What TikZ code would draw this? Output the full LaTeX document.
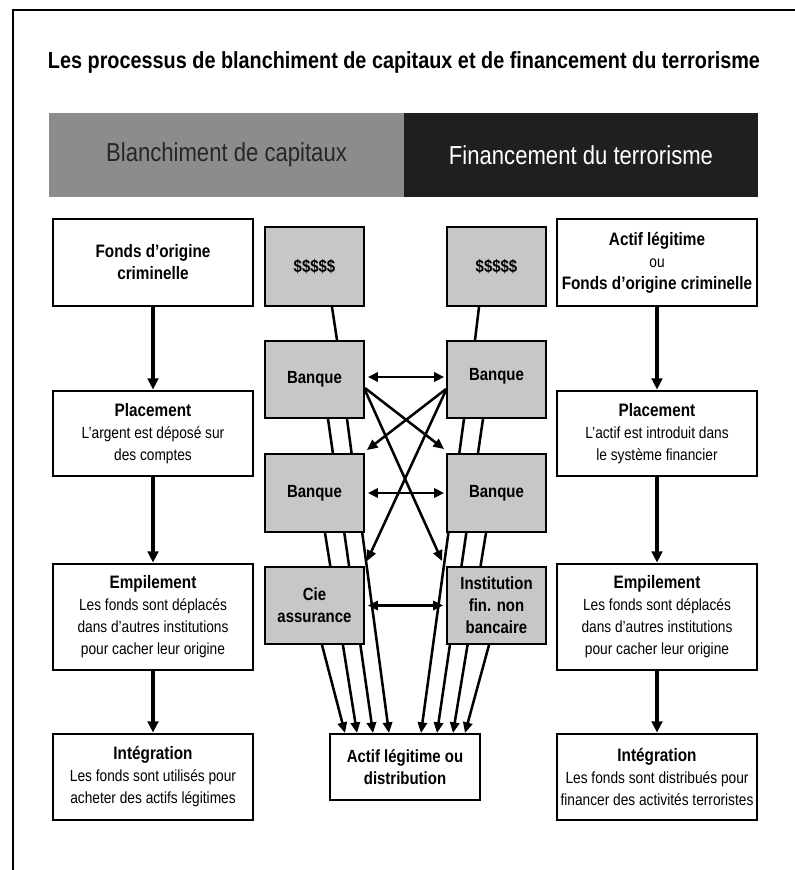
\documentclass[tikz,border=0pt]{standalone}
\usepackage{fontspec}
\setmainfont{Liberation Sans}[FakeStretch=0.85]
\usetikzlibrary{arrows.meta,calc,backgrounds}
\definecolor{midgray}{gray}{0.78}
\definecolor{bandlight}{gray}{0.55}
\definecolor{banddark}{gray}{0.12}
\newcommand{\myBody}{\fontsize{12.1}{16.5}\selectfont}
\newcommand{\hd}[1]{{\fontsize{13.5}{16.5}\selectfont\bfseries #1}}
\begin{document}
\begin{tikzpicture}[x=0.75pt,y=-0.75pt,
  every node/.style={inner sep=0pt, align=center},
  stage/.style={draw, line width=2.1pt, fill=white, minimum width=150pt, font=\myBody},
  midbox/.style={draw, line width=1.4pt, fill=midgray, minimum width=74.25pt, font=\bfseries\fontsize{13.2}{16.5}\selectfont},
  band/.style={minimum width=266pt, minimum height=63pt, font=\fontsize{19.5}{22}\selectfont},
  flow/.style={line width=2.3pt, -{Triangle[length=8.5pt,width=8pt]}},
  link/.style={line width=1.9pt, -{Triangle[length=8pt,width=7pt]}},
  both/.style={line width=1.9pt, {Triangle[length=7.5pt,width=7pt]}-{Triangle[length=7.5pt,width=7pt]}},
  plain/.style={line width=1.9pt}
]
\useasboundingbox (0,0) rectangle (795,870);
% frame
\draw[line width=1.6pt] (13,870) -- (13,10) -- (795,10);
% title
\node[font=\bfseries\fontsize{17.5}{20}\selectfont] (title) at (404,62)
  {Les processus de blanchiment de capitaux et de financement du terrorisme};
% header band
\node[band, fill=bandlight, text=black!85] (hdrL) at (226.5,155) {Blanchiment de capitaux};
\node[band, fill=banddark, text=white] (hdrR) at (581,155) {Financement du terrorisme};

% left column
\node[stage, minimum height=65.25pt] (l1) at (153,262.5) {\hd{Fonds d’origine}\\\hd{criminelle}};
\node[stage, minimum height=63.75pt] (l2) at (153,433.5) {\hd{Placement}\\L’argent est déposé sur\\des comptes};
\node[stage, minimum height=79.5pt] (l3) at (153,617) {\hd{Empilement}\\Les fonds sont déplacés\\dans d’autres institutions\\pour cacher leur origine};
\node[stage, minimum height=64.5pt] (l4) at (153,777) {\hd{Intégration}\\Les fonds sont utilisés pour\\acheter des actifs légitimes};

% right column
\node[stage, minimum height=65.25pt] (r1) at (657,262.5) {\hd{Actif légitime}\\ou\\\hd{Fonds d’origine criminelle}};
\node[stage, minimum height=63.75pt] (r2) at (657,433.5) {\hd{Placement}\\L’actif est introduit dans\\le système financier};
\node[stage, minimum height=79.5pt] (r3) at (657,617) {\hd{Empilement}\\Les fonds sont déplacés\\dans d’autres institutions\\pour cacher leur origine};
\node[stage, minimum height=64.5pt] (r4) at (657,777) {\hd{Intégration}\\Les fonds sont distribués pour\\financer des activités terroristes};

% centre boxes
\node[midbox, minimum height=59.25pt] (dl) at (314.5,266.5) {\$\$\$\$\$};
\node[midbox, minimum height=59.25pt] (dr) at (496.5,266.5) {\$\$\$\$\$};
\node[midbox, minimum height=57.75pt] (b1l) at (314.5,379.5) {Banque};
\node[midbox, minimum height=57.75pt, text depth=7pt] (b1r) at (496.5,379.5) {Banque};
\node[midbox, minimum height=58.5pt] (b2l) at (314.5,493) {Banque};
\node[midbox, minimum height=58.5pt] (b2r) at (496.5,493) {Banque};
\node[midbox, minimum height=57.75pt] (cie) at (314.5,605.5) {Cie\\assurance};
\node[midbox, minimum height=57.75pt] (ins) at (496.5,605.5) {Institution\\fin. non\\bancaire};
\node[draw, line width=1.5pt, fill=white, minimum width=112.5pt, minimum height=49.5pt,
  font=\bfseries\fontsize{13.2}{16}\selectfont] (dest) at (405,767) {Actif légitime ou\\distribution};

% main column arrows
\draw[flow] (l1) -- (l2);
\draw[flow] (l2) -- (l3);
\draw[flow] (l3) -- (l4);
\draw[flow] (r1) -- (r2);
\draw[flow] (r2) -- (r3);
\draw[flow] (r3) -- (r4);

% $$$$$ to banks
\draw[plain] ($(dl.south)+(17.5,0)$) -- ($(b1l.north)+(22.5,0)$);
\draw[plain] ($(dr.south)+(-17.5,0)$) -- ($(b1r.north)+(-21.5,0)$);

% double arrows
\draw[both] ($(b1l.east)+(3,-2.5)$) -- ($(b1r.west)+(-2,-2.5)$);
\draw[both] ($(b2l.east)+(3,0)$) -- ($(b2r.west)+(-2,0)$);
\draw[both] ($(cie.east)+(3,0)$) -- ($(ins.west)+(-3,0)$);

% crossing arrows
\draw[link] ($(b1l.east)+(0,8.5)$) -- ($(b2r.north west)+(-2,-4)$);
\draw[link] ($(b1l.east)+(0,10.5)$) -- ($(ins.north west)+(-4,-5)$);
\draw[link] ($(b1r.west)+(0,9.5)$) -- ($(b2l.north east)+(2,-3)$);
\draw[link] ($(b1r.west)+(0,10.5)$) -- ($(cie.north east)+(2,-5)$);

% flows to destination (behind boxes)
\begin{pgfonlayer}{background}
\fill[white] (0,0) rectangle (795,870);
\draw[link] ($(b1l.south)+(13.5,0)$) -- ($(dest.north)+(-32,0)$);
\draw[link] ($(b1l.south)+(32.5,0)$) -- ($(dest.north)+(-16,0)$);
\draw[link] ($(b2l.south)+(10.5,0)$) -- ($(dest.north)+(-48,0)$);
\draw[link] ($(cie.south)+(7.5,0)$) -- ($(dest.north)+(-60,0)$);
\draw[link] ($(b1r.south)+(-13.5,0)$) -- ($(dest.north)+(32,0)$);
\draw[link] ($(b1r.south)+(-32.5,0)$) -- ($(dest.north)+(16,0)$);
\draw[link] ($(b2r.south)+(-10.5,0)$) -- ($(dest.north)+(48,0)$);
\draw[link] ($(ins.south)+(-7.5,0)$) -- ($(dest.north)+(60,0)$);
\end{pgfonlayer}
\end{tikzpicture}
\end{document}
